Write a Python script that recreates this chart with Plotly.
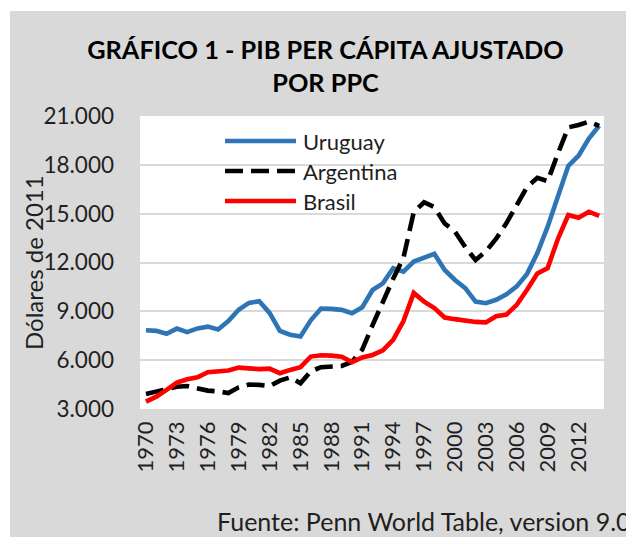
import plotly.graph_objects as go

# ---------------- data ----------------
years = list(range(1970, 2015))
uruguay = [7840, 7800, 7620, 7940, 7720, 7950, 8060, 7880, 8400, 9100,
           9520, 9620, 8900, 7800, 7560, 7450, 8450, 9170, 9150, 9090,
           8880, 9250, 10310, 10720, 11650, 11440, 12060, 12260, 12530, 11540,
           10930, 10420, 9600, 9500, 9710, 10040, 10530, 11300, 12580, 14200,
           16150, 17930, 18560, 19620, 20400]
argentina = [3920, 4090, 4270, 4370, 4410, 4250, 4130, 4080, 3980, 4330,
             4500, 4480, 4400, 4740, 4940, 4580, 5320, 5570, 5620, 5650,
             5900, 6650, 8150, 9600, 11000, 12300, 15100, 15700, 15400, 14400,
             13900, 12950, 12150, 12680, 13460, 14420, 15540, 16640, 17200, 17000,
             18700, 20300, 20450, 20650, 20400]
brasil = [3450, 3760, 4170, 4620, 4830, 4950, 5260, 5300, 5360, 5540,
          5480, 5450, 5480, 5200, 5400, 5570, 6220, 6300, 6280, 6210,
          5880, 6170, 6320, 6600, 7250, 8400, 10130, 9600, 9200, 8620,
          8520, 8400, 8350, 8320, 8700, 8800, 9400, 10330, 11330, 11660,
          13460, 14920, 14750, 15120, 14860]

series_names = ["Uruguay", "Argentina", "Brasil"]
x_tick_vals = list(range(1970, 2013, 3))
x_tick_labels = [str(y) for y in x_tick_vals]
y_tick_vals = [3000, 6000, 9000, 12000, 15000, 18000, 21000]
y_tick_labels = ["3.000", "6.000", "9.000", "12.000", "15.000", "18.000", "21.000"]

title_text = "GRÁFICO 1 - PIB PER CÁPITA AJUSTADO<br>POR PPC"
y_title = "Dólares de 2011"
source_text = "Fuente: Penn World Table, version 9.0"

# ---------------- styles / layout helpers ----------------
OFF = 8                      # page body margin
W, H = 634 - OFF, 537 - OFF  # figure size visible in the window
PL, PR, PT, PB = 140, 604, 116, 409   # plot area in window pixels
L, R, T, B = PL - OFF, 634 - PR, PT - OFF, 537 - PB
PW, PH = PR - PL, PB - PT


def px_x(px):
    return (px - PL) / PW


def px_y(py):
    return (PB - py) / PH


FONT = "Lato, 'Open Sans', sans-serif"
TXT = "#1f1f1f"
colors = {"Uruguay": "#2e75b6", "Argentina": "#000000", "Brasil": "#ff0000"}
dashes = {"Uruguay": "solid", "Argentina": "18px,8px", "Brasil": "solid"}
LW = 4.6

fig = go.Figure()
for name, vals in zip(series_names, [uruguay, argentina, brasil]):
    fig.add_trace(go.Scatter(
        x=years, y=vals, name=name, mode="lines",
        line=dict(color=colors[name], width=LW, dash=dashes[name]),
        showlegend=False,
    ))

shapes = [
    # white border strips around the grey chart area
    dict(type="rect", xref="paper", yref="paper", x0=px_x(OFF), x1=px_x(634),
         y0=px_y(11), y1=px_y(OFF), fillcolor="white", line_width=0, layer="above"),
    dict(type="rect", xref="paper", yref="paper", x0=px_x(OFF), x1=px_x(10),
         y0=px_y(537), y1=px_y(OFF), fillcolor="white", line_width=0, layer="above"),
]
annotations = []
legend_y = [141, 171, 201]
for name, ly in zip(series_names, legend_y):
    shapes.append(dict(type="line", xref="paper", yref="paper",
                       x0=px_x(225), x1=px_x(296), y0=px_y(ly), y1=px_y(ly),
                       line=dict(color=colors[name], width=LW, dash=dashes[name])))
    annotations.append(dict(xref="paper", yref="paper", x=px_x(301), y=px_y(ly),
                            xanchor="left", yanchor="middle", text=name, showarrow=False,
                            font=dict(family=FONT, size=22, color=TXT)))

annotations.append(dict(xref="paper", yref="paper", x=px_x(33), y=px_y(263),
                        xanchor="center", yanchor="middle", text=y_title, textangle=-90,
                        showarrow=False, font=dict(family=FONT, size=24, color=TXT)))
annotations.append(dict(xref="paper", yref="paper", x=px_x(633), y=px_y(521),
                        xanchor="right", yanchor="middle", text=source_text,
                        showarrow=False, font=dict(family=FONT, size=25, color=TXT)))

fig.update_layout(
    width=W, height=H,
    margin=dict(l=L, r=R, t=T, b=B, pad=0),
    paper_bgcolor="#d9d9d9",
    plot_bgcolor="white",
    font=dict(family=FONT, color=TXT),
    title=dict(text=title_text, x=px_x(325.5), xref="paper", xanchor="center",
               y=1 - 51 / H, yref="container", yanchor="middle",
               font=dict(family=FONT, size=25.3, color="#000000", weight="bold")),
    shapes=shapes,
    annotations=annotations,
    showlegend=False,
    xaxis=dict(range=[1969.42, 2014.47], tickmode="array", tickvals=x_tick_vals,
               ticktext=x_tick_labels, tickangle=-90, showgrid=False, zeroline=False,
               showline=False, ticks="", ticklabelstandoff=7,
               tickfont=dict(family=FONT, size=22, color=TXT)),
    yaxis=dict(range=[3000, 21000], tickmode="array", tickvals=y_tick_vals,
               ticktext=y_tick_labels, showgrid=True, gridcolor="#d9d9d9", gridwidth=1.6,
               zeroline=False, showline=False, ticks="", ticklabelstandoff=25,
               tickfont=dict(family=FONT, size=22.5, color=TXT)),
)

fig.write_html("out.html")
